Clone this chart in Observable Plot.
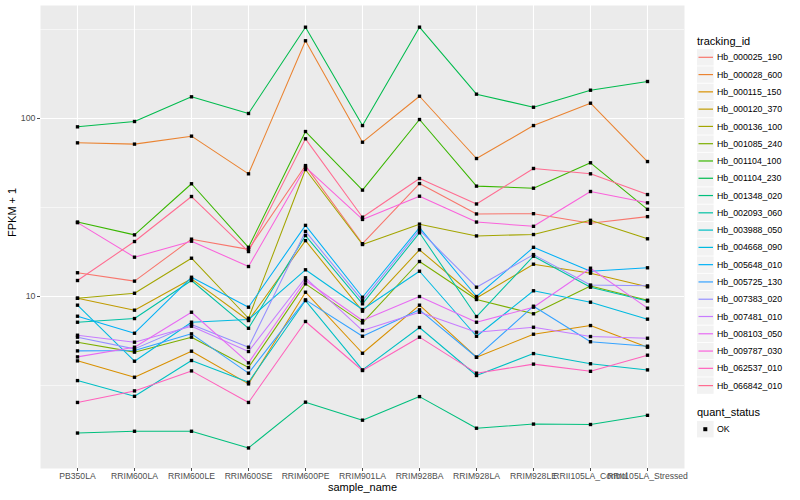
<!DOCTYPE html>
<html><head><meta charset="utf-8">
<script src="https://cdn.jsdelivr.net/npm/d3@7"></script>
<script src="https://cdn.jsdelivr.net/npm/@observablehq/plot@0.6"></script>
<style>
body{margin:0;background:#fff;font-family:"Liberation Sans",Arial,Helvetica,sans-serif;}
#wrap{position:relative;width:800px;height:500px;overflow:hidden;}
#chart{position:absolute;left:0;top:0;}
#legend{position:absolute;left:0;top:0;pointer-events:none;}
</style></head><body>
<div id="wrap"><div id="chart"></div><svg id="legend" width="800" height="500"></svg></div>
<script>
const samples = ["PB350LA","RRIM600LA","RRIM600LE","RRIM600SE","RRIM600PE","RRIM901LA","RRIM928BA","RRIM928LA","RRIM928LE","RRII105LA_Control","RRII105LA_Stressed"];
const ids = ["Hb_000025_190","Hb_000028_600","Hb_000115_150","Hb_000120_370","Hb_000136_100","Hb_001085_240","Hb_001104_100","Hb_001104_230","Hb_001348_020","Hb_002093_060","Hb_003988_050","Hb_004668_090","Hb_005648_010","Hb_005725_130","Hb_007383_020","Hb_007481_010","Hb_008103_050","Hb_009787_030","Hb_062537_010","Hb_066842_010"];
const colors = ["#F8766D","#EA8331","#D89000","#C09B00","#A3A500","#7CAE00","#39B600","#00BB4E","#00BF7D","#00C1A3","#00BFC4","#00BAE0","#00B0F6","#35A2FF","#9590FF","#C77CFF","#E76BF3","#FA62DB","#FF62BC","#FF6C91"];

// FPKM + 1 per sample (order of samples)
const Hb_000025_190 = [13.6, 12.2, 21.0, 18.4, 54.4, 19.8, 43.1, 29.1, 29.2, 25.8, 28.1];
const Hb_000028_600 = [73.0, 71.8, 79.6, 48.9, 273.3, 73.6, 133.4, 59.6, 91.3, 121.9, 57.3];
const Hb_000115_150 = [4.35, 3.52, 4.93, 3.23, 10.57, 4.80, 8.94, 4.56, 6.14, 6.87, 5.19];
const Hb_000120_370 = [9.78, 8.38, 12.57, 7.33, 20.6, 8.27, 18.3, 9.81, 15.19, 13.52, 11.34];
const Hb_000136_100 = [9.78, 10.43, 16.41, 7.55, 51.7, 19.6, 25.5, 21.9, 22.3, 26.8, 21.1];
const Hb_001085_240 = [5.54, 4.87, 5.91, 3.99, 11.78, 7.11, 15.73, 9.62, 8.0, 11.46, 9.53];
const Hb_001104_100 = [26.2, 22.2, 43.0, 18.9, 84.5, 39.6, 98.7, 41.7, 40.6, 56.4, 30.9];
const Hb_001104_230 = [89.8, 96.2, 132.4, 106.7, 325.8, 91.3, 326.0, 137.0, 115.7, 144.2, 161.4];
const Hb_001348_020 = [1.71, 1.75, 1.75, 1.41, 2.55, 2.02, 2.74, 1.82, 1.92, 1.91, 2.15];
const Hb_002093_060 = [7.17, 7.52, 12.30, 6.63, 22.0, 9.10, 22.8, 7.72, 16.84, 11.28, 9.43];
const Hb_003988_050 = [3.37, 2.75, 4.37, 3.30, 9.49, 3.87, 6.70, 3.60, 4.78, 4.19, 3.87];
const Hb_004668_090 = [8.94, 4.33, 7.17, 7.43, 14.13, 8.45, 13.87, 5.98, 10.77, 9.29, 7.46];
const Hb_005648_010 = [7.75, 6.22, 12.83, 8.71, 25.1, 9.91, 24.4, 10.0, 18.9, 13.87, 14.5];
const Hb_005725_130 = [4.95, 4.97, 6.17, 3.71, 9.58, 5.98, 8.42, 4.56, 8.82, 5.57, 5.26];
const Hb_007383_020 = [5.91, 5.08, 6.96, 5.19, 23.2, 9.49, 23.6, 11.28, 17.2, 11.6, 11.48];
const Hb_007481_010 = [6.06, 5.54, 6.81, 4.91, 12.74, 6.44, 8.16, 6.30, 6.72, 5.96, 5.83];
const Hb_008103_050 = [4.58, 5.19, 8.16, 4.24, 12.30, 7.33, 10.0, 7.17, 8.71, 14.42, 8.60];
const Hb_009787_030 = [26.0, 16.63, 20.45, 14.74, 53.3, 27.1, 36.6, 26.2, 24.8, 38.9, 33.6];
const Hb_062537_010 = [2.54, 2.95, 3.82, 2.54, 7.24, 3.84, 5.91, 3.71, 4.17, 3.80, 4.68];
const Hb_066842_010 = [12.30, 20.37, 36.46, 17.89, 76.9, 27.9, 46.0, 33.1, 52.4, 48.9, 37.4];

const series = [Hb_000025_190,Hb_000028_600,Hb_000115_150,Hb_000120_370,Hb_000136_100,Hb_001085_240,Hb_001104_100,Hb_001104_230,Hb_001348_020,Hb_002093_060,Hb_003988_050,Hb_004668_090,Hb_005648_010,Hb_005725_130,Hb_007383_020,Hb_007481_010,Hb_008103_050,Hb_009787_030,Hb_062537_010,Hb_066842_010];
const yMajor = [10, 100];
const yMinor = [Math.sqrt(10), Math.sqrt(1000), Math.sqrt(100000)];
const quantStatus = ["OK"];

const rows = [];
ids.forEach((id, i) => samples.forEach((s, j) => rows.push({id, sample: s, value: series[i][j]})));

const chart = Plot.plot({
  width: 690, height: 500,
  marginLeft: 40, marginRight: 6, marginTop: 5, marginBottom: 32,
  style: {fontFamily: "Liberation Sans, Arial, Helvetica, sans-serif", background: "transparent"},
  x: {type: "point", domain: samples, padding: 0.6, label: null},
  y: {type: "log", domain: [1.081, 431.4], label: null},
  color: {domain: ids, range: colors},
  marks: [
    Plot.frame({fill: "#EBEBEB", stroke: null}),
    Plot.ruleY(yMinor, {stroke: "white", strokeWidth: 0.55}),
    Plot.ruleY(yMajor, {stroke: "white", strokeWidth: 1.1}),
    Plot.ruleX(samples, {stroke: "white", strokeWidth: 1.1}),
    Plot.line(rows, {x: "sample", y: "value", z: "id", stroke: "id", strokeWidth: 1.05}),
    Plot.dot(rows, {x: "sample", y: "value", symbol: "square", r: 1.9, fill: "black", stroke: null}),
    Plot.axisX({ticks: samples, tickSize: 3, tickPadding: 1.5, fontSize: 8.6, color: "#4D4D4D", label: null}),
    Plot.axisY({ticks: yMajor, tickFormat: d => String(d), tickSize: 3, tickPadding: 2, fontSize: 8.8, color: "#4D4D4D", label: null}),
    Plot.text(["sample_name"], {frameAnchor: "bottom", dy: 22, fontSize: 11, fill: "black"}),
    Plot.text(["FPKM + 1"], {frameAnchor: "left", dx: -28, rotate: -90, fontSize: 11, fill: "black"})
  ]
});
document.getElementById("chart").appendChild(chart);

// legend
const leg = d3.select("#legend").style("font-family", "Liberation Sans, Arial, Helvetica, sans-serif");
leg.append("text").attr("x", 697).attr("y", 44.5).attr("font-size", 11).text("tracking_id");
ids.forEach((id, i) => {
  const cy = 57.3 + i * 17.28;
  leg.append("rect").attr("x", 697).attr("y", cy - 8.2).attr("width", 16.6).attr("height", 16.4).attr("fill", "#F2F2F2");
  leg.append("line").attr("x1", 698.5).attr("x2", 713).attr("y1", cy).attr("y2", cy).attr("stroke", colors[i]).attr("stroke-width", 1.2);
  leg.append("text").attr("x", 717).attr("y", cy + 3.1).attr("font-size", 8.8).text(id);
});
leg.append("text").attr("x", 697).attr("y", 416.3).attr("font-size", 11).text("quant_status");
quantStatus.forEach((q, i) => {
  const cy = 429.2 + i * 17.28;
  leg.append("rect").attr("x", 697).attr("y", cy - 8.2).attr("width", 16.6).attr("height", 16.4).attr("fill", "#F2F2F2");
  leg.append("rect").attr("x", 703.3).attr("y", cy - 2).attr("width", 4).attr("height", 4).attr("fill", "black");
  leg.append("text").attr("x", 717).attr("y", cy + 3.1).attr("font-size", 8.8).text(q);
});
</script></body></html>
